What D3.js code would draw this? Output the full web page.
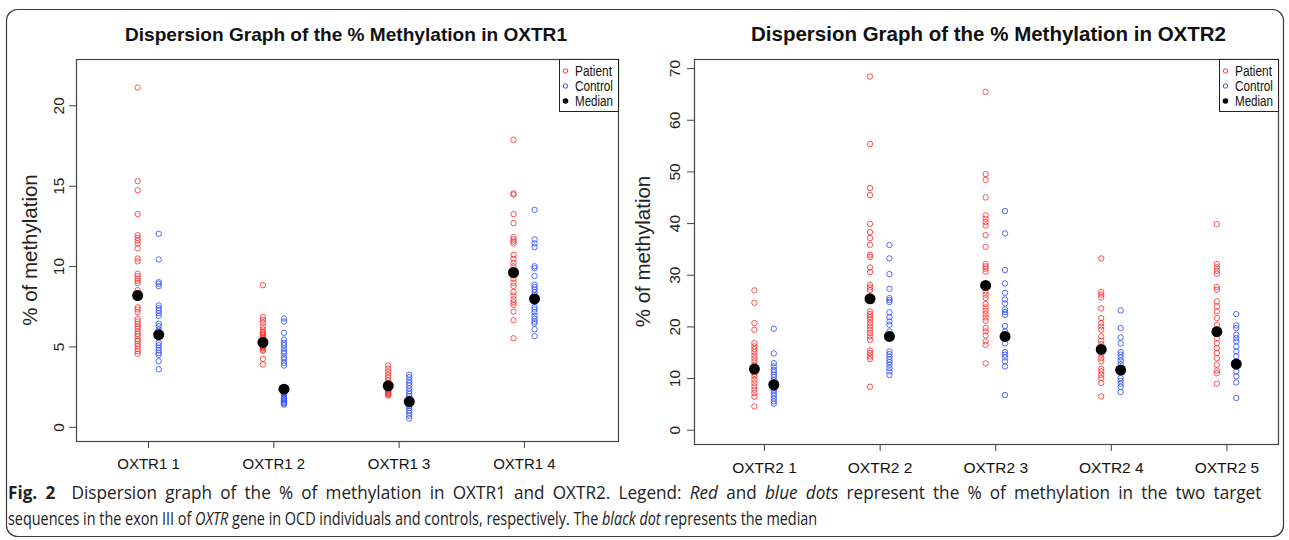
<!DOCTYPE html>
<html>
<head>
<meta charset="utf-8">
<script src="https://cdn.jsdelivr.net/npm/d3@7/dist/d3.min.js"></script>
<style>
  html, body { margin: 0; padding: 0; background: #fff; }
  svg { display: block; }
  text { font-family: "Liberation Sans", Arial, sans-serif; }
</style>
</head>
<body>
<svg id="chart" width="1289" height="540"></svg>
<script>
// ---------------- DATA ----------------
const oxtr1Categories = ["OXTR1 1", "OXTR1 2", "OXTR1 3", "OXTR1 4"];
const oxtr1Patient = [
  [21.1, 15.28, 14.72, 13.23, 11.92, 11.76, 11.59, 11.41, 11.1, 10.47, 10.29, 9.52, 9.37, 9.21, 9.08, 8.94,
   8.5, 8.3, 7.44, 7.3, 7.13, 6.7, 6.55, 6.41, 6.24, 6.1, 5.93, 5.79, 5.64, 5.45, 5.33, 5.16, 5.02, 4.85, 4.7, 4.54],
  [8.81, 6.84, 6.66, 6.47, 6.24, 6.05, 5.9, 5.89, 5.8, 5.72, 5.6, 5.54, 5.5, 5.39, 5.3, 5.2, 5.1, 5.06, 5.0,
   4.95, 4.89, 4.8, 4.73, 4.23, 3.88],
  [3.81, 3.61, 3.42, 3.23, 3.05, 2.88, 2.73, 2.6, 2.55, 2.45, 2.4, 2.36, 2.3, 2.25, 2.2, 2.15, 2.1, 2.05, 2.0, 1.95],
  [17.86, 14.52, 14.45, 13.23, 12.67, 11.8, 11.66, 11.53, 11.41, 10.7, 10.45, 10.2, 9.99, 9.75, 9.42, 9.21,
   8.96, 8.75, 8.38, 8.17, 7.92, 7.75, 7.59, 7.17, 6.63, 5.51]
];
const oxtr1Control = [
  [12.01, 10.41, 9.0, 8.9, 8.75, 7.55, 7.38, 7.24, 7.07, 6.9, 6.41, 6.26, 6.05, 5.89, 5.23, 5.08, 4.91, 4.75,
   4.6, 4.48, 4.08, 3.58],
  [6.74, 6.55, 5.85, 5.43, 5.23, 5.08, 4.89, 4.7, 4.56, 4.33, 4.19, 3.98, 3.81, 2.2, 2.11, 2.0, 1.9, 1.8,
   1.74, 1.65, 1.57, 1.5, 1.45, 1.39],
  [3.25, 3.09, 2.9, 2.73, 2.57, 2.4, 2.22, 2.05, 1.9, 1.74, 1.6, 1.5, 1.45, 1.4, 1.3, 1.16, 1.01, 0.87, 0.7, 0.52],
  [13.5, 11.66, 11.41, 11.18, 9.99, 9.87, 9.38, 8.84, 8.69, 8.54, 8.38, 8.21, 8.05, 7.76, 7.44, 7.3, 7.13,
   6.89, 6.72, 6.55, 6.43, 6.07, 5.64]
];
const oxtr1PatientMedian = [8.17, 5.25, 2.55, 9.6];
const oxtr1ControlMedian = [5.73, 2.34, 1.57, 7.96];
const oxtr1YTicks = [0, 5, 10, 15, 20];

const oxtr2Categories = ["OXTR2 1", "OXTR2 2", "OXTR2 3", "OXTR2 4", "OXTR2 5"];
const oxtr2Patient = [
  [26.97, 24.58, 20.64, 19.35, 16.77, 16.13, 15.61, 15.03, 14.39, 13.81, 13.23, 12.58, 12.0, 11.2, 10.8,
   10.32, 9.68, 9.03, 8.39, 7.74, 7.1, 6.39, 4.52],
  [68.38, 55.29, 46.77, 45.42, 39.87, 38.26, 37.1, 35.8, 33.87, 33.48, 31.42, 30.52, 28.06, 27.54, 27.03,
   22.9, 22.39, 21.81, 21.29, 20.64, 19.99, 19.35, 18.71, 18.06, 17.42, 15.35, 14.84, 14.19, 13.68, 8.32],
  [65.42, 49.48, 48.38, 44.96, 41.48, 40.84, 40.19, 39.54, 37.68, 35.42, 32.07, 31.61, 31.16, 30.58, 26.77,
   26.13, 25.49, 24.33, 23.67, 23.03, 22.39, 21.74, 21.1, 19.68, 19.03, 18.25, 17.1, 16.45, 12.84],
  [33.16, 26.64, 26.13, 25.61, 23.48, 21.61, 20.64, 19.99, 19.35, 18.06, 17.22, 16.58, 14.52, 13.87, 13.23,
   11.81, 11.29, 10.64, 10.0, 9.03, 6.45],
  [39.8, 32.07, 31.42, 30.77, 30.19, 27.61, 27.1, 24.84, 23.87, 22.9, 21.61, 20.32, 17.74, 16.77, 15.8,
   14.84, 13.87, 12.58, 11.48, 10.97, 8.9]
];
const oxtr2Control = [
  [19.55, 14.77, 12.9, 12.26, 11.61, 11.16, 10.64, 10.2, 9.6, 9.0, 8.5, 8.0, 7.6, 7.1, 6.58, 6.0, 5.48, 5.03],
  [35.75, 33.16, 30.13, 27.29, 25.49, 25.1, 24.71, 22.71, 21.81, 20.96, 20.32, 19.03, 15.16, 14.64, 14.13,
   13.61, 13.1, 12.58, 11.93, 11.29, 10.58],
  [42.33, 38.0, 30.9, 28.31, 26.51, 25.22, 24.45, 23.29, 22.77, 22.26, 20.06, 19.03, 16.71, 15.03, 14.52,
   14.0, 13.23, 12.26, 6.71],
  [23.1, 19.68, 17.87, 16.71, 15.03, 14.52, 14.0, 13.35, 12.71, 10.0, 9.48, 8.9, 8.32, 7.29],
  [22.39, 20.19, 19.68, 18.39, 17.74, 17.1, 16.13, 15.16, 14.19, 12.26, 11.29, 10.32, 9.16, 6.13]
];
const oxtr2PatientMedian = [11.74, 25.35, 27.93, 15.55, 18.97];
const oxtr2ControlMedian = [8.71, 18.06, 18.06, 11.55, 12.71];
const oxtr2YTicks = [0, 10, 20, 30, 40, 50, 60, 70];

const legendLabels = ["Patient", "Control", "Median"];
const titles = ["Dispersion Graph of the % Methylation in OXTR1", "Dispersion Graph of the % Methylation in OXTR2"];
const yTitle = "% of methylation";

// ---------------- STYLE ----------------
const RED = "#ff3434", BLUE = "#3452ff";
const svg = d3.select("#chart");

// outer frame
svg.append("rect").attr("x", 6.5).attr("y", 9.5).attr("width", 1277).attr("height", 527)
  .attr("rx", 11).attr("fill", "none").attr("stroke", "#3a3a3a").attr("stroke-width", 1.2);

function panel(cfg) {
  const g = svg.append("g");
  const x = d3.scaleLinear().domain(cfg.xDomain).range([cfg.left, cfg.right]);
  const y = d3.scaleLinear().domain(cfg.yDomain).range([cfg.bottom, cfg.top]);

  // title
  g.append("text").attr("x", cfg.titleX).attr("y", 41).attr("text-anchor", "middle")
    .attr("font-weight", "bold").attr("font-size", cfg.titleSize).attr("fill", "#111")
    .attr("textLength", cfg.titleLen).attr("lengthAdjust", "spacingAndGlyphs")
    .text(cfg.title);

  // y axis
  const ya = g.append("g").attr("transform", `translate(${cfg.left},0)`)
    .call(d3.axisLeft(y).tickValues(cfg.yTicks).tickSize(7).tickFormat(d3.format("d")));
  ya.select(".domain").remove();
  ya.selectAll("line").attr("stroke", "#444");
  ya.selectAll("text").attr("transform", "rotate(-90)").attr("x", 0).attr("y", -cfg.yLabOff)
    .attr("dy", 0).attr("text-anchor", "middle").attr("font-size", 15.5).attr("fill", "#222")
    .attr("font-family", "Liberation Sans, Arial, sans-serif");

  // x axis
  const xa = g.append("g").attr("transform", `translate(0,${cfg.bottom})`)
    .call(d3.axisBottom(x).tickValues(cfg.cats.map((c, i) => i + 1)).tickSize(7)
      .tickFormat(d => cfg.cats[d - 1]));
  xa.select(".domain").remove();
  xa.selectAll("line").attr("stroke", "#444");
  xa.selectAll("text").attr("y", cfg.xLabOff).attr("dy", 0).attr("font-size", cfg.xLabSize)
    .attr("fill", "#111").attr("font-family", "Liberation Sans, Arial, sans-serif");

  // y title
  g.append("text").attr("transform", `translate(${cfg.yTitleX},${(cfg.top + cfg.bottom) / 2}) rotate(-90)`)
    .attr("text-anchor", "middle").attr("font-size", 20.5).attr("fill", "#222").text(yTitle);

  // points
  const pts = [];
  cfg.patient.forEach((arr, i) => arr.forEach(v => pts.push({ c: i + 1, v, s: "p" })));
  cfg.control.forEach((arr, i) => arr.forEach(v => pts.push({ c: i + 1, v, s: "c" })));
  g.append("g").selectAll("circle").data(pts).join("circle")
    .attr("cx", d => x(d.c + (d.s === "p" ? -0.083 : 0.085)))
    .attr("cy", d => y(d.v)).attr("r", 2.7)
    .attr("fill", "none").attr("stroke", d => d.s === "p" ? RED : BLUE).attr("stroke-width", 1)
    .attr("stroke-opacity", 0.85);

  const meds = [];
  cfg.pMed.forEach((v, i) => meds.push({ c: i + 1 - 0.083, v }));
  cfg.cMed.forEach((v, i) => meds.push({ c: i + 1 + 0.085, v }));
  g.append("g").selectAll("circle").data(meds).join("circle")
    .attr("cx", d => x(d.c)).attr("cy", d => y(d.v)).attr("r", 5.5).attr("fill", "#000");

  // plot box
  g.append("rect").attr("x", cfg.left + 0.5).attr("y", cfg.top + 0.5)
    .attr("width", cfg.right - cfg.left).attr("height", cfg.bottom - cfg.top)
    .attr("fill", "none").attr("stroke", "#444").attr("stroke-width", 1.2);

  // legend
  const lw = 59, lh = 52;
  const lx = cfg.right - lw;
  const lg = g.append("g").attr("transform", `translate(${lx},${cfg.top})`);
  lg.append("rect").attr("x", 0.5).attr("y", 0.5).attr("width", lw).attr("height", lh)
    .attr("fill", "#fff").attr("stroke", "#222").attr("stroke-width", 1);
  legendLabels.forEach((lab, i) => {
    const yy = 12 + i * 15;
    if (i < 2) {
      lg.append("circle").attr("cx", 6.5).attr("cy", yy).attr("r", 2.2).attr("fill", "none")
        .attr("stroke", i === 0 ? RED : BLUE).attr("stroke-width", 1);
    } else {
      lg.append("circle").attr("cx", 6.5).attr("cy", yy).attr("r", 2.8).attr("fill", "#000");
    }
    lg.append("text").attr("x", 16).attr("y", yy + 5).attr("font-size", 14).attr("fill", "#111")
      .attr("textLength", i === 0 ? 37 : 38).attr("lengthAdjust", "spacingAndGlyphs")
      .text(lab);
  });
}

panel({
  left: 76, right: 618, top: 59, bottom: 441,
  xDomain: [0.425, 4.751], yDomain: [-0.88, 22.88],
  yTicks: oxtr1YTicks, cats: oxtr1Categories,
  patient: oxtr1Patient, control: oxtr1Control,
  pMed: oxtr1PatientMedian, cMed: oxtr1ControlMedian,
  title: titles[0], titleX: 346, titleSize: 19, titleLen: 442,
  yLabOff: 12, xLabOff: 27.5, xLabSize: 15, yTitleX: 37
});

panel({
  left: 694, right: 1278, top: 59, bottom: 444,
  xDomain: [0.3945, 5.446], yDomain: [-2.76, 71.76],
  yTicks: oxtr2YTicks, cats: oxtr2Categories,
  patient: oxtr2Patient, control: oxtr2Control,
  pMed: oxtr2PatientMedian, cMed: oxtr2ControlMedian,
  title: titles[1], titleX: 988.5, titleSize: 20, titleLen: 475,
  yLabOff: 14.5, xLabOff: 28.5, xLabSize: 15.5, yTitleX: 650
});

// ---------------- CAPTION ----------------
const cap1 = [
  { t: "Fig. 2", w: "bold" }, { t: "  Dispersion graph of the % of methylation in OXTR1 and OXTR2. Legend: " },
  { t: "Red", i: true }, { t: " and " }, { t: "blue dots", i: true },
  { t: " represent the % of methylation in the two target" }
];
const cap2 = [
  { t: "sequences in the exon III of " }, { t: "OXTR", i: true },
  { t: " gene in OCD individuals and controls, respectively. The " }, { t: "black dot", i: true },
  { t: " represents the median" }
];
function caption(parts) {
  const t = svg.append("text").attr("x", 0).attr("y", 0).attr("font-size", 17.5)
    .attr("fill", "#222").style("font-family", "'Open Sans', 'Noto Sans', sans-serif")
    .style("white-space", "pre");
  parts.forEach(p => {
    t.append("tspan").attr("font-weight", p.w || null).attr("font-style", p.i ? "italic" : null)
      .text(p.t);
  });
  return t;
}
const c2 = caption(cap2);
const sx2 = 810 / c2.node().getComputedTextLength();
c2.attr("transform", `translate(8,525) scale(${sx2},1)`);
const c1 = caption(cap1);
const nat1 = c1.node().getComputedTextLength();
const nSpaces = cap1.map(p => p.t).join("").split(" ").length - 1;
const extra = Math.max(0, 1254 - sx2 * nat1);
const spacePart = extra * 0.35;
const sx1 = (1254 - spacePart) / nat1;
const wsLocal = spacePart / nSpaces / sx1;
c1.style("word-spacing", wsLocal + "px").attr("transform", `translate(8,499) scale(${sx1},1)`);
</script>
</body>
</html>
